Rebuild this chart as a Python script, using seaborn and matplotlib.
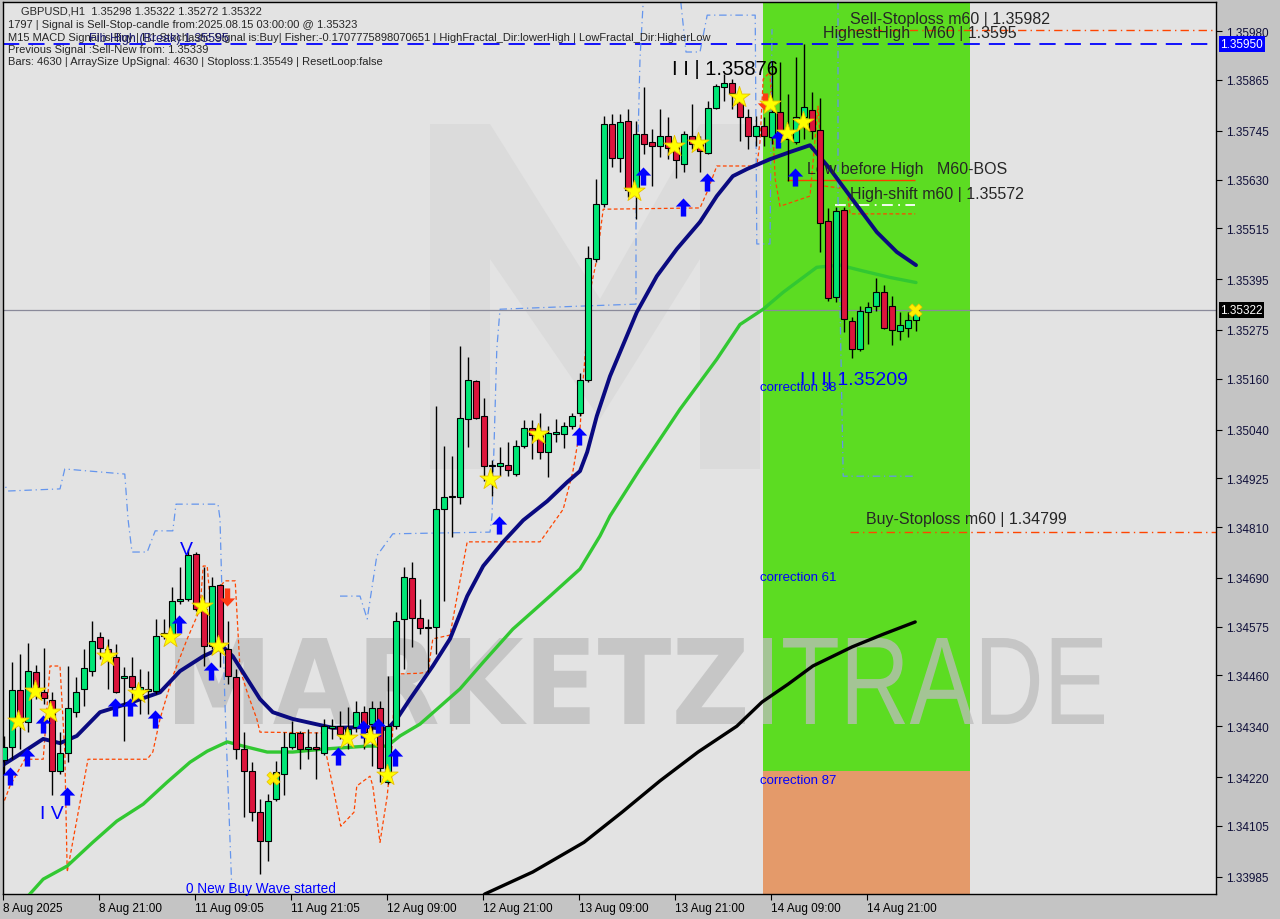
import numpy as np
import pandas as pd
import matplotlib
matplotlib.use("Agg")
from matplotlib import pyplot as plt
from matplotlib.transforms import blended_transform_factory, Affine2D
from matplotlib.textpath import TextPath
from matplotlib.patches import PathPatch, Polygon
from matplotlib.font_manager import FontProperties
import seaborn as sns

# GBPUSD H1 candles, bar 0 = 8 Aug 2025 09:00
opens = [1.34260, 1.34291, 1.34425, 1.34350, 1.34468, 1.34420, 1.34402, 1.34234, 1.34277, 1.34373,
         1.34428, 1.34470, 1.34550, 1.34522, 1.34503, 1.34454, 1.34458, 1.34416, 1.34423, 1.34423,
         1.34553, 1.34557, 1.34635, 1.34640, 1.34746, 1.34616, 1.34529, 1.34673, 1.34522, 1.34456,
         1.34286, 1.34234, 1.34137, 1.34069, 1.34168, 1.34227, 1.34291, 1.34324, 1.34286, 1.34291,
         1.34277, 1.34336, 1.34340, 1.34314, 1.34338, 1.34373, 1.34345, 1.34383, 1.34208, 1.34340,
         1.34593, 1.34690, 1.34595, 1.34572, 1.34574, 1.34852, 1.34881, 1.34881, 1.35065, 1.35155,
         1.35072, 1.34954, 1.34954, 1.34956, 1.34935, 1.35001, 1.35044, 1.35027, 1.34987, 1.35029,
         1.35029, 1.35048, 1.35079, 1.35157, 1.35442, 1.35572, 1.35761, 1.35681, 1.35768, 1.35605,
         1.35737, 1.35719, 1.35709, 1.35733, 1.35707, 1.35667, 1.35733, 1.35714, 1.35693, 1.35799,
         1.35848, 1.35858, 1.35813, 1.35778, 1.35733, 1.35756, 1.35730, 1.35789, 1.35726, 1.35719,
         1.35777, 1.35794, 1.35747, 1.35532, 1.35353, 1.35558, 1.35296, 1.35230, 1.35317, 1.35331,
         1.35364, 1.35331, 1.35272, 1.35280, 1.35298]
highs = [1.34317, 1.34491, 1.34510, 1.34536, 1.34484, 1.34524, 1.34420, 1.34326, 1.34482, 1.34456,
         1.34522, 1.34588, 1.34562, 1.34546, 1.34534, 1.34479, 1.34503, 1.34475, 1.34470, 1.34593,
         1.34593, 1.34668, 1.34716, 1.34758, 1.34751, 1.34716, 1.34692, 1.34675, 1.34588, 1.34475,
         1.34326, 1.34255, 1.34168, 1.34180, 1.34258, 1.34326, 1.34352, 1.34329, 1.34333, 1.34326,
         1.34357, 1.34357, 1.34376, 1.34385, 1.34399, 1.34388, 1.34399, 1.34399, 1.34458, 1.34609,
         1.34716, 1.34727, 1.34640, 1.34593, 1.35096, 1.35001, 1.34978, 1.35237, 1.35211, 1.35157,
         1.35114, 1.34968, 1.34999, 1.35011, 1.35015, 1.35062, 1.35062, 1.35079, 1.35048, 1.35065,
         1.35058, 1.35079, 1.35173, 1.35473, 1.35631, 1.35780, 1.35785, 1.35785, 1.35796, 1.35768,
         1.35848, 1.35749, 1.35796, 1.35777, 1.35719, 1.35745, 1.35808, 1.35733, 1.35815, 1.35855,
         1.35880, 1.35867, 1.35839, 1.35796, 1.35780, 1.35778, 1.35910, 1.35907, 1.35833, 1.35919,
         1.35950, 1.35837, 1.35822, 1.35563, 1.35565, 1.35565, 1.35305, 1.35331, 1.35341, 1.35397,
         1.35381, 1.35355, 1.35317, 1.35317, 1.35322]
lows = [1.34227, 1.34262, 1.34286, 1.34326, 1.34404, 1.34392, 1.34177, 1.34227, 1.34255, 1.34362,
        1.34388, 1.34458, 1.34498, 1.34428, 1.34418, 1.34305, 1.34399, 1.34369, 1.34369, 1.34416,
        1.34546, 1.34546, 1.34628, 1.34635, 1.34612, 1.34482, 1.34522, 1.34479, 1.34439, 1.34262,
        1.34125, 1.34116, 1.33991, 1.34022, 1.34163, 1.34177, 1.34286, 1.34239, 1.34262, 1.34215,
        1.34272, 1.34310, 1.34310, 1.34286, 1.34326, 1.34286, 1.34246, 1.34208, 1.34203, 1.34333,
        1.34475, 1.34527, 1.34557, 1.34468, 1.34510, 1.34635, 1.34786, 1.34864, 1.34999, 1.35065,
        1.34919, 1.34883, 1.34930, 1.34930, 1.34930, 1.34996, 1.34970, 1.34970, 1.34927, 1.35011,
        1.34996, 1.35041, 1.35072, 1.35152, 1.35435, 1.35565, 1.35660, 1.35648, 1.35589, 1.35537,
        1.35690, 1.35615, 1.35683, 1.35678, 1.35634, 1.35647, 1.35702, 1.35648, 1.35690, 1.35796,
        1.35815, 1.35796, 1.35721, 1.35702, 1.35709, 1.35709, 1.35714, 1.35726, 1.35627, 1.35714,
        1.35726, 1.35726, 1.35459, 1.35343, 1.35341, 1.35270, 1.35209, 1.35225, 1.35242, 1.35320,
        1.35277, 1.35239, 1.35251, 1.35258, 1.35272]
closes = [1.34291, 1.34425, 1.34350, 1.34470, 1.34432, 1.34406, 1.34234, 1.34277, 1.34383, 1.34420,
          1.34477, 1.34541, 1.34524, 1.34503, 1.34420, 1.34458, 1.34432, 1.34432, 1.34428, 1.34553,
          1.34560, 1.34635, 1.34640, 1.34744, 1.34616, 1.34529, 1.34671, 1.34529, 1.34458, 1.34286,
          1.34234, 1.34137, 1.34069, 1.34163, 1.34232, 1.34291, 1.34324, 1.34286, 1.34291, 1.34286,
          1.34340, 1.34340, 1.34321, 1.34333, 1.34373, 1.34326, 1.34383, 1.34241, 1.34340, 1.34588,
          1.34692, 1.34595, 1.34572, 1.34575, 1.34852, 1.34881, 1.34883, 1.35067, 1.35157, 1.35067,
          1.34954, 1.34956, 1.34961, 1.34944, 1.35001, 1.35044, 1.35027, 1.34987, 1.35032, 1.35034,
          1.35048, 1.35072, 1.35157, 1.35445, 1.35572, 1.35761, 1.35681, 1.35766, 1.35605, 1.35737,
          1.35714, 1.35709, 1.35733, 1.35704, 1.35675, 1.35737, 1.35714, 1.35697, 1.35799, 1.35851,
          1.35858, 1.35834, 1.35778, 1.35733, 1.35756, 1.35733, 1.35789, 1.35733, 1.35747, 1.35778,
          1.35801, 1.35745, 1.35527, 1.35350, 1.35556, 1.35301, 1.35230, 1.35320, 1.35329, 1.35364,
          1.35280, 1.35275, 1.35287, 1.35298, 1.35322]

# moving averages, read as (bar, price) knots
ma_fast_x = [-0.5, 2, 4.9, 7, 9.1, 12, 15.75, 19.5, 22, 24.9, 27.4, 28.6, 32, 33.6, 36.1, 41.1, 45.4,
             47.9, 49.1, 50.75, 53.6, 55.75, 57.9, 59.9, 62.4, 64.9, 67.9, 70.4, 72, 72.9, 74.1,
             75.75, 79.1, 81.6, 84.1, 87, 89.1, 91.1, 92.9, 95.75, 98.25, 100.75, 103.25, 105.75,
             109.1, 111.6, 114]
ma_fast_y = [1.34244, 1.34274, 1.34310, 1.34300, 1.34317, 1.34373, 1.34395, 1.34420, 1.34470, 1.34505,
             1.34527, 1.34505, 1.34404, 1.34373, 1.34357, 1.34336, 1.34338, 1.34333, 1.34357, 1.34404,
             1.34482, 1.34546, 1.34647, 1.34718, 1.34775, 1.34826, 1.34871, 1.34916, 1.34942, 1.34987,
             1.35072, 1.35166, 1.35317, 1.35402, 1.35466, 1.35530, 1.35591, 1.35638, 1.35655, 1.35678,
             1.35695, 1.35711, 1.35655, 1.35591, 1.35506, 1.35459, 1.35428]
ma_mid_x = [2, 3, 4.9, 7.9, 11.1, 14.1, 17.4, 20.4, 23.25, 25.4, 27.9, 29.9, 32.9, 36.1, 39.9, 45.4,
            47.9, 49.5, 52, 57, 59.9, 63.6, 68.25, 72, 74.5, 75.75, 79.5, 84.5, 89.1, 92, 94.9,
            97.4, 99.1, 101.6, 104.5, 107, 110.75, 114]
ma_mid_y = [1.33900, 1.33939, 1.33979, 1.34010, 1.34066, 1.34116, 1.34156, 1.34208, 1.34255, 1.34281,
            1.34303, 1.34293, 1.34279, 1.34279, 1.34286, 1.34293, 1.34293, 1.34317, 1.34345, 1.34428,
            1.34491, 1.34569, 1.34647, 1.34711, 1.34789, 1.34836, 1.34947, 1.35088, 1.35206, 1.35288,
            1.35324, 1.35364, 1.35388, 1.35423, 1.35428, 1.35416, 1.35399, 1.35387]
ma_slow_x = [59, 60.1, 66.1, 72.5, 77.25, 82, 86.75, 91.6, 94.75, 98, 101.1, 106, 109.9, 113.9]
ma_slow_y = [1.33920, 1.33944, 1.33996, 1.34066, 1.34137, 1.34211, 1.34279, 1.34340, 1.34397,
             1.34439, 1.34482, 1.34527, 1.34557, 1.34586]

# trailing stop (orange dashed)
trail_x = [-0.5, 0.75, 2.6, 4.9, 5.75, 7, 7.6, 7.9, 10.5, 17.9, 18.6, 19.5, 21.1, 22.9, 24.5, 24.9,
           25.4, 25.75, 27.6, 28.9, 29.5, 30.4, 31.6, 32, 39.75, 42.1, 43.75, 44.1, 45.75, 46.1, 47,
           47.9, 48.5, 48.9, 52, 53, 53.6, 55.75, 57.9, 67, 69.9, 71.1, 72, 72.4, 72.9, 73.25, 74.1,
           74.9, 87, 87.9, 89.1, 94.1, 94.5, 94.9, 95.75, 96.4, 97, 100.75, 101.75, 102.4, 105.4,
           105.75, 113.9]
trail_y = [1.34137, 1.34199, 1.34262, 1.34262, 1.34482, 1.34482, 1.34279, 1.33996, 1.34262, 1.34262,
           1.34279, 1.34357, 1.34458, 1.34546, 1.34616, 1.34718, 1.34718, 1.34640, 1.34683, 1.34683,
           1.34475, 1.34420, 1.34357, 1.34326, 1.34324, 1.34104, 1.34137, 1.34199, 1.34222, 1.34199,
           1.34066, 1.34175, 1.34293, 1.34463, 1.34465, 1.34468, 1.34546, 1.34555, 1.34775, 1.34775,
           1.34852, 1.34940, 1.35041, 1.35159, 1.35277, 1.35365, 1.35442, 1.35560, 1.35563, 1.35601,
           1.35662, 1.35662, 1.35719, 1.35867, 1.35884, 1.35631, 1.35567, 1.35591, 1.35803, 1.35615,
           1.35608, 1.35549, 1.35549]

# fractal channel (blue dash-dot), nan breaks the segments
nan = float("nan")
chan_x = [-0.5, 0.5, 7, 7.6, 15.1, 15.5, 16, 17.9, 18.9, 21.1, 21.5, 26.75, 27, 27.6, 28.5, nan,
          42, 44.5, 45.4, 46.6, 48.6, 60.75, 61, 61.6, 62, 71.6, 79, 79, 79.5, 79.9, nan,
          84.6, 85.25, 87, 87.9, 93.9, 94.1, 95.75, 96, nan,
          104.25, 104.25, 104.9, 113.9]
chan_y = [1.34928, 1.34895, 1.34900, 1.34947, 1.34935, 1.34829, 1.34751, 1.34751, 1.34801, 1.34801,
          1.34864, 1.34864, 1.34829, 1.34404, 1.33944, nan,
          1.34647, 1.34647, 1.34593, 1.34742, 1.34794, 1.34798, 1.34836, 1.35230, 1.35324, 1.35331,
          1.35336, 1.35537, 1.35915, 1.36049, nan,
          1.36049, 1.35931, 1.35931, 1.36018, 1.36018, 1.35478, 1.35478, 1.35985, nan,
          1.36049, 1.35584, 1.34930, 1.34930]

# signal markers
star_x = [1.75, 3.9, 5.75, 12.9, 16.75, 20.75, 24.75, 26.75, 42.9, 45.75, 47.9, 60.75, 66.75,
          78.75, 83.75, 86.75, 91.9, 95.75, 97.9, 99.9]
star_y = [1.34352, 1.34423, 1.34373, 1.34506, 1.34418, 1.34550, 1.34623, 1.34529, 1.34312, 1.34314,
          1.34225, 1.34923, 1.35030, 1.35603, 1.35709, 1.35716, 1.35825, 1.35808, 1.35740, 1.35766]
buy_x = [0.75, 2.9, 4.9, 7.9, 13.9, 15.75, 18.9, 21.9, 25.9, 41.75, 44.9, 46.75, 48.9, 61.9, 71.9,
         79.9, 84.9, 87.9, 96.75, 98.9]
buy_y = [1.34222, 1.34267, 1.34345, 1.34175, 1.34385, 1.34385, 1.34357, 1.34581, 1.34470, 1.34269,
         1.34333, 1.34338, 1.34267, 1.34815, 1.35025, 1.35638, 1.35565, 1.35624, 1.35726, 1.35636]
sell_x = [27.9, 95.1]
sell_y = [1.34645, 1.35813]
cross_x = [33.6, 113.9]
cross_y = [1.34218, 1.35322]

# levels
highest_high = 1.35950
sell_stop = 1.35982
buy_stop = 1.34799
last_price = 1.35322
low_before_high = 1.35629
high_shift = 1.35570
zone_split = 1.34234

yticks = [1.35980, 1.35865, 1.35745, 1.35630, 1.35515, 1.35395, 1.35275, 1.35160, 1.35040,
          1.34925, 1.34810, 1.34690, 1.34575, 1.34460, 1.34340, 1.34220, 1.34105, 1.33985]
xtick_bars = [0, 12, 24, 36, 48, 60, 72, 84, 96, 108]
xtick_labels = ["8 Aug 2025", "8 Aug 21:00", "11 Aug 09:05", "11 Aug 21:05", "12 Aug 09:00",
                "12 Aug 21:00", "13 Aug 09:00", "13 Aug 21:00", "14 Aug 09:00", "14 Aug 21:00"]

sns.set_style("white")
plt.rcParams['font.family'] = ['Liberation Sans', 'DejaVu Sans']

fig = plt.figure(figsize=(12.8, 9.2), dpi=100, facecolor="#c4c4c4")
ax = fig.add_axes([3/1280, 25/920, 1213/1280, 892/920])
ax.set_facecolor("#e3e3e3")
X0, X1 = -0.125, 151.5
Y0, Y1 = 1.33944, 1.36049
ax.set_xlim(X0, X1)
ax.set_ylim(Y0, Y1)

# faint M logo in the background
logo_px = [(430, 125), (490, 125), (600, 300), (700, 125), (760, 125), (760, 470), (700, 470),
           (700, 260), (600, 420), (490, 260), (490, 470), (430, 470)]
logo = Polygon([((x - 3) / 1213, (895 - y) / 892) for x, y in logo_px], closed=True,
               transform=ax.transAxes, facecolor="#d6d6d6", edgecolor="none", alpha=0.6, zorder=0.5)
ax.add_patch(logo)

# signal zone
zx0, zx1 = 94.875, 120.75
ax.fill_between([zx0, zx1], zone_split, Y1, color="#5cdc22", lw=0, zorder=1)
ax.fill_between([zx0, zx1], Y0, zone_split, color="#e49a6a", lw=0, zorder=1)


# watermark, fitted into pixel boxes (left, bottom, right, top) of the 1280x920 canvas
def watermark(word, prop, box, color):
    path = TextPath((0, 0), word, size=100, prop=prop)
    ext = path.get_extents()
    x0, y0, x1, y1 = box
    tr = (Affine2D().translate(-ext.x0, -ext.y0)
          .scale((x1 - x0) / ext.width, (y1 - y0) / ext.height).translate(x0, y0))
    ax.add_artist(PathPatch(path, transform=tr, facecolor=color, edgecolor="none",
                            alpha=0.75, zorder=1.5))


watermark("MARKETZ", FontProperties(family="DejaVu Sans", weight="bold"), (175, 195, 745, 281), "#bdbdbd")
watermark("ITRADE", FontProperties(family="Liberation Sans"), (763, 195, 1104, 281), "#bdbdbd")

# levels
ax.axhline(last_price, color="#8a8a9a", lw=0.9, zorder=2)
ax.axhline(highest_high, color="#0000ff", lw=1.3, dashes=(9, 5), zorder=2)
ax.hlines(sell_stop, 104.1, X1, color="#ff4500", lw=1, linestyles=(0, (6, 3, 1, 3)), zorder=2)
ax.hlines(buy_stop, 105.75, X1, color="#ff4500", lw=1, linestyles=(0, (6, 3, 1, 3)), zorder=2)
ax.hlines(low_before_high, 97.9, 113.9, color="#ff3c00", lw=1, zorder=2)
ax.hlines(high_shift, 103.9, 113.9, color="white", lw=1.3, linestyles=(0, (6, 3, 1, 3)), zorder=2)

ax.plot(trail_x, trail_y, color="#ff4500", lw=0.9, ls=(0, (3, 2)), zorder=2.5)
ax.plot(chan_x, chan_y, color="#6495ed", lw=0.9, ls=(0, (6, 3, 1, 3)), zorder=2.5)

# moving averages
sns.lineplot(x=ma_slow_x, y=ma_slow_y, ax=ax, color="black", lw=2.4, sort=False, estimator=None, zorder=3)
sns.lineplot(x=ma_mid_x, y=ma_mid_y, ax=ax, color="#32c832", lw=2.4, sort=False, estimator=None, zorder=3)
sns.lineplot(x=ma_fast_x, y=ma_fast_y, ax=ax, color="#0a0a80", lw=2.8, sort=False, estimator=None, zorder=3.2)

# candles
df = pd.DataFrame({"o": opens, "h": highs, "l": lows, "c": closes})
df["i"] = np.arange(len(df))
up = df["c"] >= df["o"]
ax.vlines(df["i"], df["l"], df["h"], color="black", lw=1, zorder=5)
body_lo = np.minimum(df["o"], df["c"])
body_h = np.maximum((df["c"] - df["o"]).abs(), 0.00003)
ax.bar(df["i"], body_h, bottom=body_lo, width=0.72, color=np.where(up, "#00e676", "#dc143c"),
       edgecolor="black", linewidth=0.8, zorder=6)

# signals
arrow_up = [(0, 1), (-0.85, 0.1), (-0.3, 0.1), (-0.3, -1), (0.3, -1), (0.3, 0.1), (0.85, 0.1), (0, 1)]
arrow_dn = [(x, -y) for x, y in arrow_up]
ax.scatter(buy_x, buy_y, marker=arrow_up, s=170, color="#0000ff", lw=0, zorder=7)
ax.scatter(sell_x, sell_y, marker=arrow_dn, s=170, color="#ff3c14", lw=0, zorder=7)
sns.scatterplot(x=star_x, y=star_y, ax=ax, marker="*", s=260, color="#ffff00",
                edgecolor="#e8c000", linewidth=0.6, zorder=8)
sns.scatterplot(x=cross_x, y=cross_y, ax=ax, marker="X", s=90, color="#ffee00",
                edgecolor="#e8c000", linewidth=0.5, zorder=8)

# chart labels
ax.text(83.5, 1.35891, "I I | 1.35876", fontsize=14.5, color="black", va="center", zorder=9)
ax.text(99.5, 1.35159, "I I I| 1.35209", fontsize=14, color="#0000ff", va="center", zorder=9)
for yy, lab in [(1.35140, "correction 38"), (1.34692, "correction 61"), (1.34213, "correction 87")]:
    ax.text(94.5, yy, lab, fontsize=9.5, color="#0000ff", va="center", zorder=4)
ax.text(105.75, 1.36009, "Sell-Stoploss m60 | 1.35982", fontsize=11.5, va="center", zorder=4)
ax.text(102.4, 1.35976, "HighestHigh   M60 | 1.3595", fontsize=11.5, va="center", zorder=4)
ax.text(100.4, 1.35657, "Low before High   M60-BOS", fontsize=11.5, va="center", zorder=4)
ax.text(105.75, 1.35598, "High-shift m60 | 1.35572", fontsize=11.5, va="center", zorder=4)
ax.text(107.75, 1.34829, "Buy-Stoploss m60 | 1.34799", fontsize=11.5, va="center", zorder=4)
ax.text(22.75, 1.33958, "0 New Buy Wave started", fontsize=9.8, color="#0000ff",
        va="center", zorder=4)
ax.text(22.75, 1.34758, "V", fontsize=14, color="#0000ff", ha="center", va="center", zorder=9)
ax.text(4.5, 1.34133, "I V", fontsize=14, color="#0000ff", ha="left", va="center", zorder=9)

# axes
ax.yaxis.tick_right()
ax.set_yticks(yticks)
ax.set_yticklabels([f"{v:.5f}" for v in yticks])
ax.set_xticks([b - 0.125 for b in xtick_bars])
ax.set_xticklabels(xtick_labels)
for lbl in ax.get_xticklabels():
    lbl.set_ha("left")
ax.tick_params(axis="y", direction="out", length=4, width=0.8, labelsize=8.5, pad=3,
               colors="black", labelcolor="#10103a", right=True, left=False)
ax.tick_params(axis="x", direction="out", length=4, width=0.8, labelsize=8.5, pad=2,
               colors="black", bottom=True)
ax.set_xlabel("")
ax.set_ylabel("")
for sp in ax.spines.values():
    sp.set_color("black")
    sp.set_linewidth(1)

tr = blended_transform_factory(ax.transAxes, ax.transData)
ax.text(1.0035, highest_high, "1.35950", transform=tr, fontsize=8.5, color="white", va="center",
        bbox=dict(facecolor="#0000ff", edgecolor="none", pad=1.2), clip_on=False, zorder=10)
ax.text(1.0035, last_price, "1.35322", transform=tr, fontsize=8.5, color="white", va="center",
        bbox=dict(facecolor="black", edgecolor="none", pad=1.2), clip_on=False, zorder=10)

# header
header = ["1797 | Signal is Sell-Stop-candle from:2025.08.15 03:00:00 @ 1.35323",
          "M15 MACD Signal is Buy | H1 Stochastic Signal is:Buy| Fisher:-0.1707775898070651 | "
          "HighFractal_Dir:lowerHigh | LowFractal_Dir:HigherLow",
          "Previous Signal :Sell-New from: 1.35339",
          "Bars: 4630 | ArraySize UpSignal: 4630 | Stoploss:1.35549 | ResetLoop:false"]
fig.text(21/1280, 1 - 12/920, "GBPUSD,H1  1.35298 1.35322 1.35272 1.35322", fontsize=8, va="center")
for k, line in enumerate(header):
    fig.text(8/1280, 1 - (25.5 + 12.2 * k)/920, line, fontsize=8, va="center")
fig.text(89/1280, 1 - 39/920, "Fib High (Break) 1.35595", fontsize=9, color="#1a1a70", va="center")

fig.savefig("out.png", dpi=100, facecolor=fig.get_facecolor())
